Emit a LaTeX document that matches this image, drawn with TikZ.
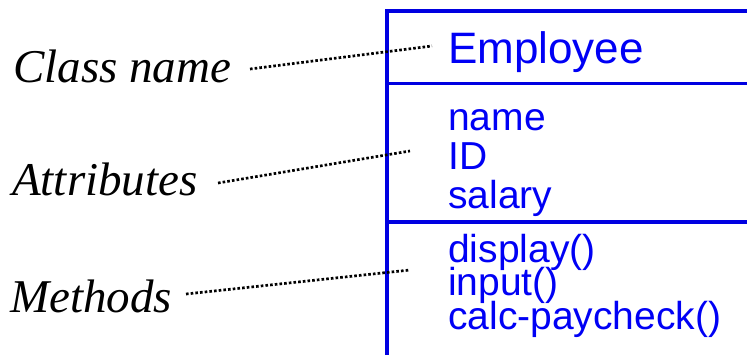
\documentclass[tikz,border=0pt]{standalone}
\usepackage{fontspec}
\setmainfont{Liberation Serif}
\newfontfamily\umlfont{Liberation Sans}
\definecolor{umlblue}{RGB}{0,0,245}
\definecolor{umledge}{RGB}{0,0,225}
\begin{document}
\begin{tikzpicture}[x=1pt,y=-1pt,
  label/.style={anchor=base west,inner sep=0pt,font=\fontsize{47}{47}\selectfont\itshape},
  titletext/.style={anchor=base west,inner sep=0pt,text=umlblue,font=\umlfont\fontsize{44}{44}\selectfont},
  membertext/.style={anchor=base west,inner sep=0pt,text=umlblue,font=\umlfont\fontsize{39}{39}\selectfont},
  edge/.style={draw=umledge,line width=3.2pt},
  leader/.style={draw=black,line width=2.7pt,dash pattern=on 2.6pt off 2.1pt}]
\useasboundingbox (0,0) rectangle (747,354);
\clip (0,0) rectangle (747,354);

% class box (runs past the right and bottom edges)
\draw[edge] (387,83.5) -- (760,83.5);
\draw[edge] (387,222) -- (760,222);
\draw[edge] (760,11) -- (387,11);
\draw[umledge,line width=4pt] (387,9.4) -- (387,370);

% compartments
\node[titletext] (cname) at (448,63) {Employee};
\node[membertext] (a1) at (448,130) {name};
\node[membertext] (a2) at (448,169) {ID};
\node[membertext] (a3) at (448,208) {salary};
\node[membertext] (m1) at (448,262) {display()};
\node[membertext] (m2) at (448,295) {input()};
\node[membertext] (m3) at (448,329) {calc-paycheck()};

% labels on the left
\node[label] (lclass) at (13,82) {Class name};
\node[label] (lattr) at (12,195) {Attributes};
\node[label] (lmeth) at (10,312) {Methods};

% dotted leaders
\coordinate (s1) at (250,69);
\coordinate (e1) at (432,46);
\coordinate (s2) at (218,183);
\coordinate (e2) at (410,151);
\coordinate (s3) at (186,294);
\coordinate (e3) at (410,270);
\draw[leader] (s1) -- (e1);
\draw[leader] (s2) -- (e2);
\draw[leader] (s3) -- (e3);
\end{tikzpicture}
\end{document}
